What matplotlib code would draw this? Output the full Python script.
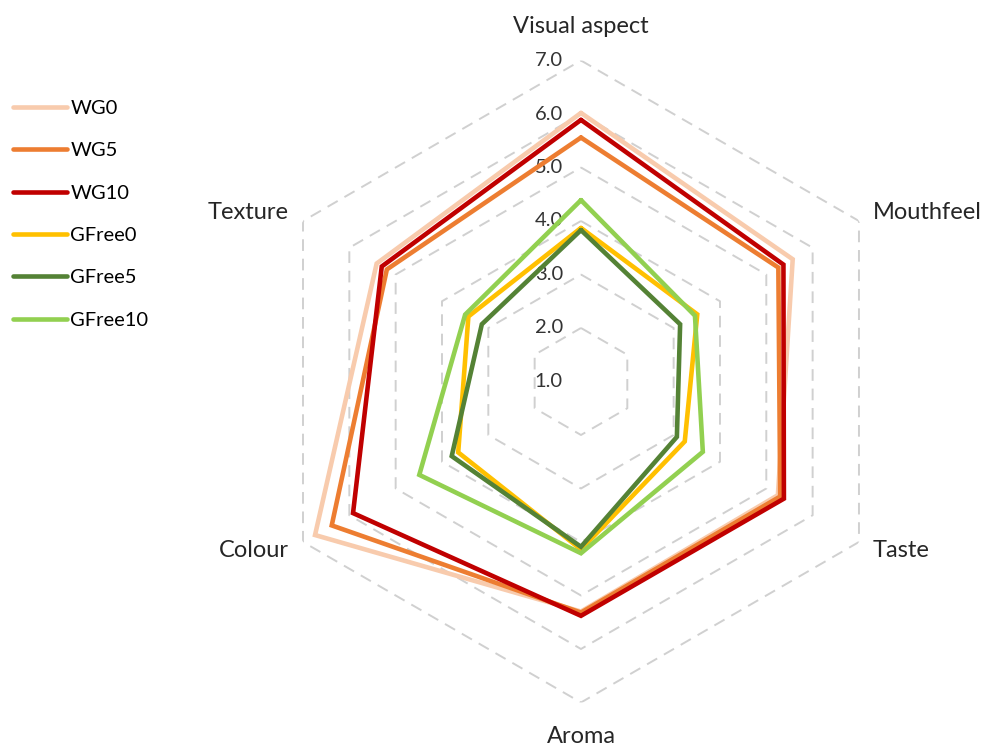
import numpy as np
import matplotlib
matplotlib.use("Agg")
import matplotlib.pyplot as plt

plt.rcParams['font.family'] = ['Lato', 'DejaVu Sans']

# sensory scores per attribute (scale 1-7)
categories = ["Visual aspect", "Mouthfeel", "Taste", "Aroma", "Colour", "Texture"]
WG0 = [6.02, 5.57, 5.25, 5.30, 6.74, 5.41]
WG5 = [5.56, 5.26, 5.30, 5.32, 6.38, 5.19]
WG10 = [5.89, 5.37, 5.38, 5.38, 5.92, 5.30]
GFree0 = [3.87, 3.51, 3.24, 4.14, 3.65, 3.43]
GFree5 = [3.83, 3.14, 3.07, 4.09, 3.79, 3.14]
GFree10 = [4.39, 3.46, 3.63, 4.21, 4.49, 3.50]

series = [("WG0", WG0, "#F8CBAD"),
          ("WG5", WG5, "#ED7D31"),
          ("WG10", WG10, "#C00000"),
          ("GFree0", GFree0, "#FFC000"),
          ("GFree5", GFree5, "#548235"),
          ("GFree10", GFree10, "#92D050")]

levels = [1, 2, 3, 4, 5, 6, 7]

n = len(categories)
theta = np.linspace(0, 2 * np.pi, n, endpoint=False)
theta_c = np.append(theta, theta[0])

fig = plt.figure(figsize=(9.9, 7.47), dpi=100)
ax = fig.add_axes([0.2626, 0.0596, 0.6485, 0.8594], projection='polar')
ax.set_theta_offset(np.pi / 2)
ax.set_theta_direction(-1)
ax.set_ylim(1, 7)
ax.grid(False)
ax.spines['polar'].set_visible(False)
ax.set_xticks([])
ax.set_yticks([])
ax.patch.set_alpha(0)

# hexagonal dashed grid
for lv in levels[1:]:
    ax.plot(theta_c, [lv] * (n + 1), color="#D0D0D0", lw=1.4,
            dashes=(6, 4), zorder=1)

for name, vals, col in series:
    ax.plot(theta_c, vals + vals[:1], color=col, lw=3.3, label=name,
            solid_joinstyle='miter', solid_capstyle='round', zorder=3)

# radial value labels
for lv in levels:
    ax.annotate(f"{lv:.1f}", xy=(0, lv), xytext=(-13, 0),
                textcoords='offset points', ha='right', va='center',
                fontsize=14.5, color="#333333", zorder=2)

# attribute names around the chart
for t, cat in zip(theta, categories):
    deg = np.degrees(t)
    if deg == 0 or deg == 180:
        ax.text(t, 7.63, cat, ha='center', va='center', fontsize=17, color="#262626")
    elif deg < 180:
        ax.text(t, 7.30, cat, ha='left', va='center', fontsize=17, color="#262626")
    else:
        ax.text(t, 7.30, cat, ha='right', va='center', fontsize=17, color="#262626")

fig.legend(loc='upper left', bbox_to_anchor=(0.013, 0.866), frameon=False,
           fontsize=14.5, handlelength=2.7, handletextpad=0.15,
           labelspacing=1.25, borderpad=0, borderaxespad=0)

fig.savefig("out.png", dpi=100)
